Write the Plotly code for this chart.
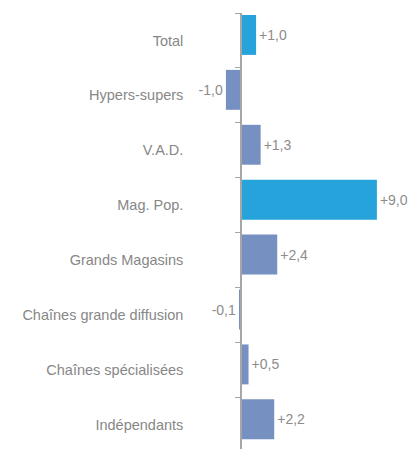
import plotly.graph_objects as go

categories = ["Total", "Hypers-supers", "V.A.D.", "Mag. Pop.", "Grands Magasins",
              "Chaînes grande diffusion", "Chaînes spécialisées", "Indépendants"]
values = [1.0, -1.0, 1.3, 9.0, 2.4, -0.1, 0.5, 2.2]
highlight = ["Total", "Mag. Pop."]

labels = [f"{v:+.1f}".replace(".", ",") for v in values]
colors = ["#25A3DA" if c in highlight else "#7590C1" for c in categories]

W, H = 414, 449
axis_x = 241
px_per_unit = 15.1
xmin = -axis_x / px_per_unit
xmax = (W - axis_x) / px_per_unit

FONT = "Liberation Sans Narrow, Arial Narrow, Liberation Sans, Arial, sans-serif"

fig = go.Figure(go.Bar(
    y=categories, x=values, orientation="h",
    marker=dict(color=colors, line=dict(width=0)),
    width=0.727, offset=-0.464,
    text=labels, textposition="outside", cliponaxis=False,
    textfont=dict(family=FONT, size=14, color="#8c8c8c"),
))

fig.update_layout(
    width=W, height=H,
    margin=dict(l=0, r=0, t=13, b=0),
    plot_bgcolor="white", paper_bgcolor="white",
    showlegend=False,
    xaxis=dict(range=[xmin, xmax], showgrid=False, zeroline=False, showticklabels=False,
               showline=False, ticks=""),
    yaxis=dict(type="category", categoryorder="array", categoryarray=categories,
               range=[7.44, -0.5], anchor="free", position=axis_x / W,
               showgrid=False, zeroline=False, showline=True, linecolor="#a6a6a6", linewidth=1.5,
               ticks="outside", ticklen=5, tickcolor="#a6a6a6", tickwidth=1, tickson="boundaries",
               ticklabelstandoff=54,
               tickfont=dict(family=FONT, size=14.5, color="#878787")),
)

fig.write_html("out.html", config={"displayModeBar": False},
               post_script="document.body.style.margin='0';document.body.style.padding='0';")
